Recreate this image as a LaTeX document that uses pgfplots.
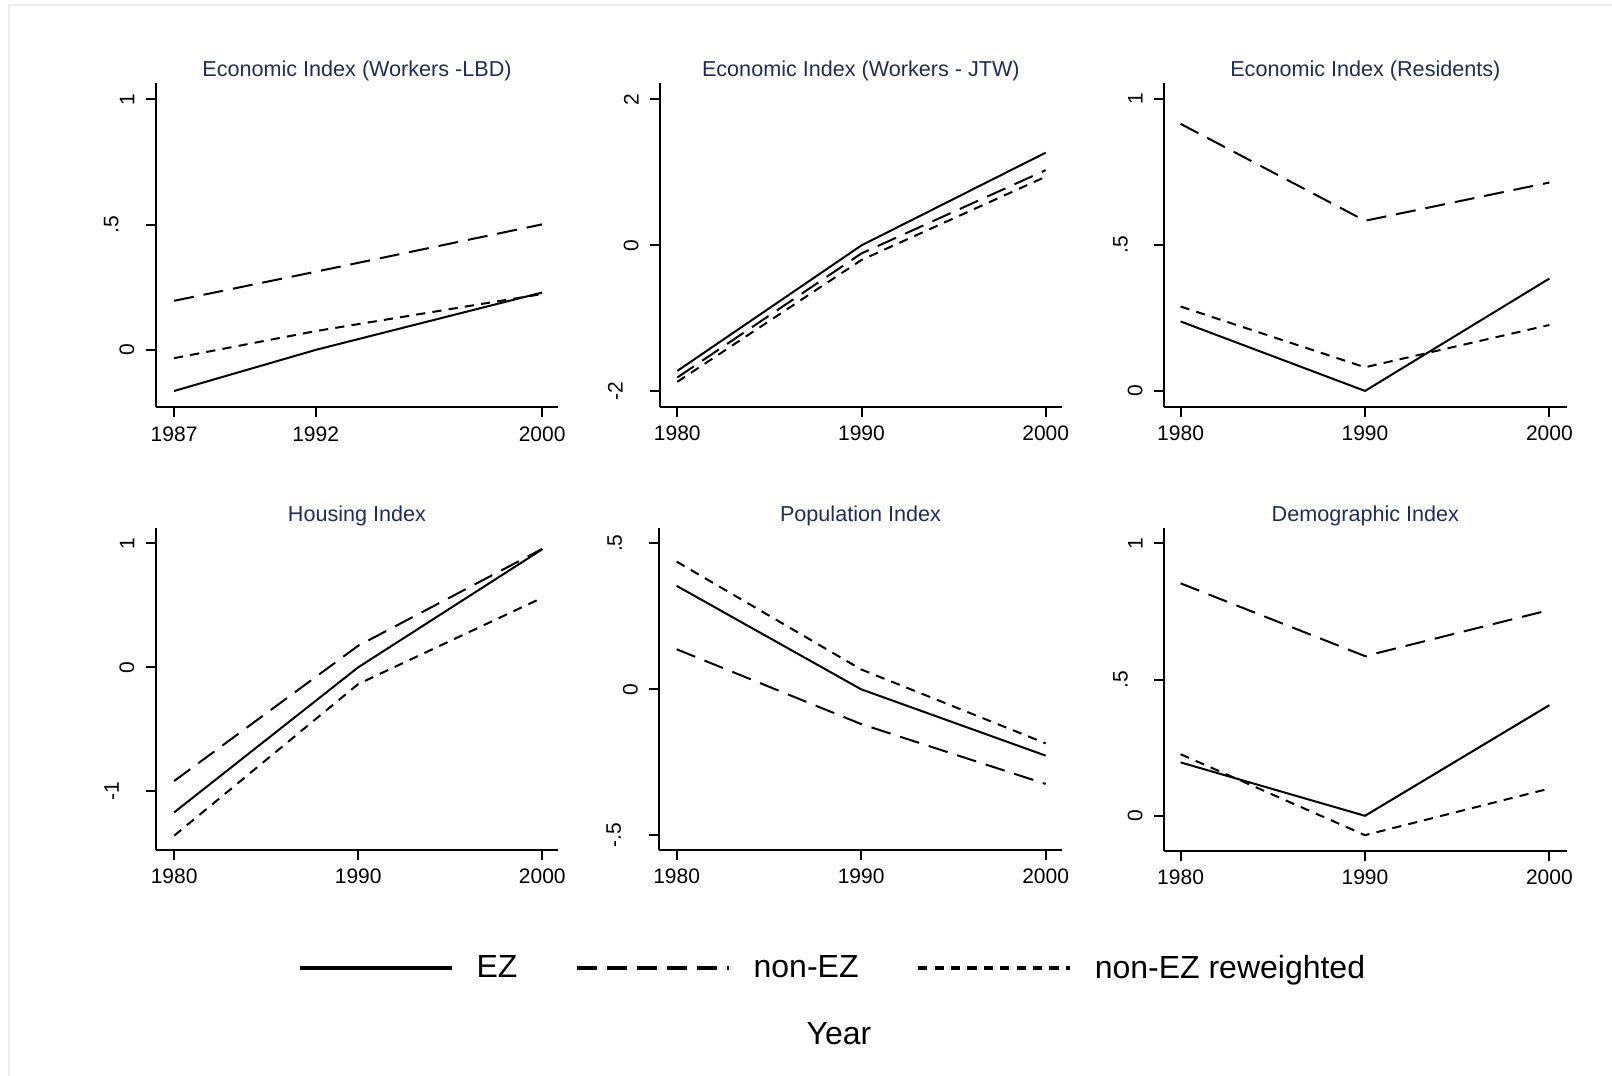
\documentclass[border=0pt]{standalone}
\usepackage{pgfplots}
\pgfplotsset{compat=1.18}
\usepackage{fontspec}
\setmainfont{Liberation Sans}

\definecolor{titlenavy}{RGB}{30,44,88}

\pgfplotsset{
  panel/.style={
    scale only axis,
    anchor=south west,
    axis x line*=bottom,
    axis y line*=left,
    axis line style={line width=1pt,-},
    tick style={line width=1pt,black},
    major tick length=5pt,
    tick align=outside,
    ticklabel style={font=\fontsize{10.5}{12}\selectfont},
    xticklabel style={yshift=-1pt},
    yticklabel style={rotate=90,anchor=south,inner ysep=5.5pt},
    title style={at={(0.5,1)},anchor=base,yshift=-2.5pt,inner sep=0pt,
      font=\fontsize{10.8}{13}\selectfont,text=titlenavy},
    legend image code/.code={\draw[#1,line width=2pt] (0pt,0pt) -- (76pt,0pt);},
  },
  ez/.style={black,line width=1pt,no markers},
  nonez/.style={black,line width=1pt,no markers,dash pattern=on 10pt off 5pt},
  rw/.style={black,line width=1pt,no markers,dash pattern=on 4.6pt off 3.6pt},
}

\begin{document}
\begin{tikzpicture}
\useasboundingbox (0,0) rectangle (806pt,538pt);
\draw[black!7,line width=0.7pt] (4.5pt,0pt) -- (4.5pt,535.5pt) -- (806pt,535.5pt);

% row 1
\begin{axis}[panel, at={(77.85pt,334.35pt)}, width=201.3pt, height=162pt,
  title={Economic Index (Workers -LBD)},
  xmin=1986.35, xmax=2000.57, ymin=-0.229, ymax=1.064,
  xtick={1987,1992,2000}, xticklabels={1987,1992,2000},
  ytick={0,0.5,1}, yticklabels={0,\raisebox{8pt}{.5},1}]
\addplot[ez] coordinates {(1987,-0.164) (1992,0) (2000,0.229)};
\addplot[nonez] coordinates {(1987,0.196) (1992,0.312) (2000,0.501)};
\addplot[rw] coordinates {(1987,-0.033) (1992,0.075) (2000,0.223)};
\end{axis}

\begin{axis}[panel, at={(330pt,334.65pt)}, width=200.85pt, height=161.7pt,
  title={Economic Index (Workers - JTW)},
  xmin=1979.06, xmax=2000.87, ymin=-2.21, ymax=2.22,
  xtick={1980,1990,2000}, xticklabels={1980,1990,2000},
  ytick={-2,0,2}, yticklabels={\raisebox{8pt}{-2},0,2}]
\addplot[ez] coordinates {(1980,-1.72) (1990,0) (2000,1.27)};
\addplot[nonez] coordinates {(1980,-1.81) (1990,-0.11) (2000,1.03)};
\addplot[rw] coordinates {(1980,-1.87) (1990,-0.20) (2000,0.94)};
\end{axis}

\begin{axis}[panel, at={(582pt,334.65pt)}, width=201.35pt, height=161.7pt,
  title={Economic Index (Residents)},
  xmin=1979.1, xmax=2000.94, ymin=-0.054, ymax=1.054,
  xtick={1980,1990,2000}, xticklabels={1980,1990,2000},
  ytick={0,0.5,1}, yticklabels={0,\raisebox{7.5pt}{.5},1}]
\addplot[ez] coordinates {(1980,0.238) (1990,0) (2000,0.385)};
\addplot[nonez] coordinates {(1980,0.915) (1990,0.583) (2000,0.714)};
\addplot[rw] coordinates {(1980,0.289) (1990,0.081) (2000,0.226)};
\end{axis}

% row 2
\begin{axis}[panel, at={(77.85pt,113pt)}, width=201.3pt, height=160.85pt,
  title={Housing Index},
  xmin=1979.0, xmax=2000.87, ymin=-1.473, ymax=1.121,
  xtick={1980,1990,2000}, xticklabels={1980,1990,2000},
  ytick={-1,0,1}, yticklabels={\raisebox{7.7pt}{-1},0,1}]
\addplot[ez] coordinates {(1980,-1.17) (1990,0) (2000,0.952)};
\addplot[nonez] coordinates {(1980,-0.917) (1990,0.174) (2000,0.955)};
\addplot[rw] coordinates {(1980,-1.358) (1990,-0.135) (2000,0.561)};
\end{axis}

\begin{axis}[panel, at={(329.65pt,113pt)}, width=201.2pt, height=160.85pt,
  title={Population Index},
  xmin=1979.06, xmax=2000.87, ymin=-0.55, ymax=0.551,
  xtick={1980,1990,2000}, xticklabels={1980,1990,2000},
  ytick={-0.5,0,0.5}, yticklabels={\raisebox{8.5pt}{-.5},0,\raisebox{8pt}{.5}},
  legend columns=3,
  legend style={draw=none,fill=none,at={(0.433,-0.367)},anchor=center,
    font=\fontsize{16}{19}\selectfont,
    /tikz/every odd column/.append style={column sep=9.3pt},
    /tikz/every even column/.append style={column sep=26.8pt}}]
\addplot[ez] coordinates {(1980,0.354) (1990,0) (2000,-0.227)};
\addlegendentry{EZ}
\addplot[nonez] coordinates {(1980,0.137) (1990,-0.119) (2000,-0.324)};
\addlegendentry{non-EZ}
\addplot[rw] coordinates {(1980,0.437) (1990,0.068) (2000,-0.185)};
\addlegendentry{non-EZ reweighted}
\end{axis}

\begin{axis}[panel, at={(582pt,112.65pt)}, width=201.35pt, height=161.2pt,
  title={Demographic Index},
  xmin=1979.1, xmax=2000.94, ymin=-0.128, ymax=1.055,
  xtick={1980,1990,2000}, xticklabels={1980,1990,2000},
  ytick={0,0.5,1}, yticklabels={0,\raisebox{7.5pt}{.5},1}]
\addplot[ez] coordinates {(1980,0.196) (1990,0) (2000,0.406)};
\addplot[nonez] coordinates {(1980,0.853) (1990,0.586) (2000,0.755)};
\addplot[rw] coordinates {(1980,0.226) (1990,-0.071) (2000,0.10)};
\end{axis}

\node[font=\fontsize{16}{19}\selectfont] at (419.5pt,21pt) {Year};
\end{tikzpicture}
\end{document}
